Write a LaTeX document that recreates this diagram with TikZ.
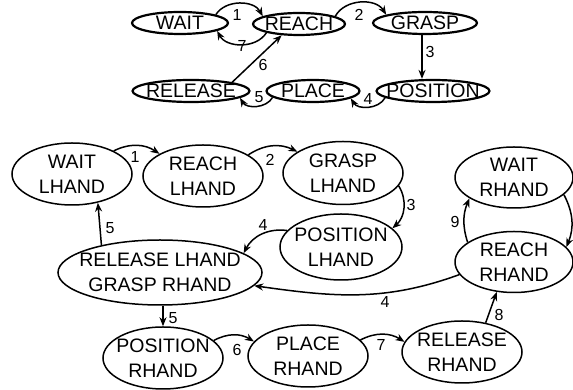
\documentclass[tikz,border=0pt]{standalone}
\usepackage{fontspec}
\setmainfont{Liberation Sans}
\usetikzlibrary{shapes.geometric,arrows.meta}
\begin{document}
\begin{tikzpicture}[x=1pt,y=1pt,
  ell/.style 2 args={ellipse,draw,line width=1.5pt,inner sep=0pt,minimum width=#1,minimum height=#2},
  tell/.style 2 args={ell={#1}{#2},line width=2.2pt},
  txt/.style={font=\fontsize{19.5}{25}\selectfont,align=center,inner sep=0pt},
  lab/.style={font=\fontsize{16}{18}\selectfont,inner sep=0pt},
  conn/.style={line width=1.5pt,-{Stealth[length=9pt,width=7pt]}}]
\useasboundingbox (0,0) rectangle (573,390);
% ---------- top diagram ----------
\node[tell={96}{22},label={[txt]center:WAIT}] (wait) at (180,367) {};
\node[tell={92}{22},label={[txt]center:REACH}] (reach) at (299,366) {};
\node[tell={104}{22},label={[txt]center:GRASP}] (grasp) at (425,367) {};
\node[tell={117}{22},label={[txt]center:RELEASE}] (release) at (191,299) {};
\node[tell={93}{22},label={[txt]center:PLACE}] (place) at (313,299) {};
\node[tell={113}{22},label={[txt]center:POSITION}] (position) at (433,299) {};
\draw[conn] (wait.13) to[bend left=60] (reach.168);
\draw[conn] (reach.195) to[bend left=60] (wait.348);
\draw[conn] (reach.12) to[bend left=60] (grasp.168);
\coordinate (g3) at (422,356);
\draw[conn] (grasp.south -| g3) -- (position.north -| g3);
\draw[conn] (position.188) to[bend left=60] (place.349);
\draw[conn] (place.189) to[bend left=60] (release.352);
\draw[conn] (release.12) -- (reach.213);
\node[lab] (t1) at (237,375) {1};
\node[lab] (t7) at (242,344) {7};
\node[lab] (t2) at (359,375) {2};
\node[lab] (t3) at (430,338) {3};
\node[lab] (t6) at (263,325) {6};
\node[lab] (t5) at (259,293) {5};
\node[lab] (t4) at (368,291) {4};
% ---------- bottom diagram ----------
\node[ell={120}{62},label={[txt]center:WAIT\\LHAND}] (wl) at (72,216) {};
\node[ell={120}{62},label={[txt]center:REACH\\LHAND}] (rl) at (203,214) {};
\node[ell={120}{63},label={[txt]center:GRASP\\LHAND}] (gl) at (343,217) {};
\node[ell={122}{66},label={[txt]center:POSITION\\LHAND}] (pl) at (341,143) {};
\node[ell={118}{61},label={[txt]center:WAIT\\RHAND}] (wr) at (514,212.5) {};
\node[ell={118}{61},label={[txt]center:REACH\\RHAND}] (rr) at (514,128) {};
\node[ell={204}{65},label={[txt]center:RELEASE LHAND\\GRASP RHAND}] (rg) at (160,117.5) {};
\node[ell={120}{62},label={[txt]center:POSITION\\RHAND}] (pr) at (163,32) {};
\node[ell={120}{62},label={[txt]center:PLACE\\RHAND}] (plr) at (308,34) {};
\node[ell={120}{62},label={[txt]center:RELEASE\\RHAND}] (relr) at (462,38) {};
\draw[conn] (wl.29) to[bend left=30] (rl.153);
\draw[conn] (rl.25) to[bend left=30] (gl.155);
\draw[conn] (gl.347) to[bend left=40] (pl.20);
\draw[conn] (pl.163) to[bend right=35] (rg.13);
\draw[conn] (rr.193) to[out=200,in=-8] (rg.352);
\draw[conn] (rg.155) -- (wl.312);
\draw[conn] (pr.north |- rg.south) -- (pr.north);
\draw[conn] (pr.19) to[bend left=30] (plr.165);
\draw[conn] (plr.17) to[bend left=30] (relr.170);
\draw[conn] (relr.51) -- (rr.240);
\draw[conn] (rr.157) to[bend left=20] (wr.205);
\draw[conn] (wr.341) to[bend left=25] (rr.16);
\node[lab] (b1) at (135,233) {1};
\node[lab] (b2) at (270,230) {2};
\node[lab] (b3) at (411,185) {3};
\node[lab] (b4a) at (263,165) {4};
\node[lab] (b4b) at (385,88) {4};
\node[lab] (b5a) at (110,162) {5};
\node[lab] (b5b) at (173,72) {5};
\node[lab] (b6) at (237,40) {6};
\node[lab] (b7) at (381,45) {7};
\node[lab] (b8) at (499,75) {8};
\node[lab] (b9) at (455,168) {9};
\end{tikzpicture}
\end{document}
